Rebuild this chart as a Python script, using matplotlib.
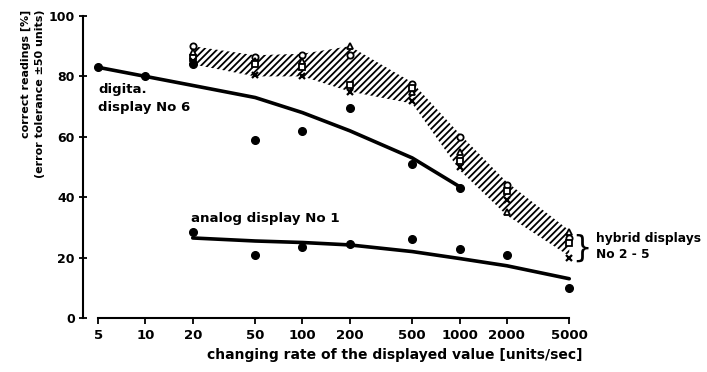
import matplotlib.pyplot as plt
import numpy as np

# rates in units/sec
rates = [5, 10, 20, 50, 100, 200, 500, 1000, 2000, 5000]

# digital display No 6 (filled dots + fitted curve)
digital_x = [5, 10, 20, 50, 100, 200, 500, 1000]
digital_y = [83, 80, 84, 59, 62, 69.5, 51, 43]
digital_fit_y = [83, 80, 77, 73, 68, 62, 53, 43.5]

# analog display No 1
analog_x = [20, 50, 100, 200, 500, 1000, 2000, 5000]
analog_y = [28.5, 21, 23.5, 24.5, 26, 23, 21, 10]
analog_fit_y = [26.5, 25.5, 25, 24.2, 22, 19.7, 17.3, 13]

# hybrid displays No 2-5
hybrid_x = [20, 50, 100, 200, 500, 1000, 2000, 5000]
hyb_circle = [90, 86.5, 87, 87, 77.5, 60, 44, 26.5]
hyb_triangle = [88, 85, 85, 90, 75, 55, 35, 28.5]
hyb_square = [86, 84, 83, 77, 76, 52, 42, 25]
hyb_cross = [85, 80.5, 80, 75, 72, 50, 39, 20]
band_top = [90, 87, 87.5, 90, 78, 61, 45, 29]
band_bottom = [84, 80, 80, 75, 71, 49, 34, 20.5]

xticks = [5, 10, 20, 50, 100, 200, 500, 1000, 2000, 5000]
yticks = [0, 20, 40, 60, 80, 100]

plt.rcParams['font.family'] = 'DejaVu Sans'
plt.rcParams['font.weight'] = 'bold'
plt.rcParams['hatch.linewidth'] = 1.3

fig = plt.figure(figsize=(7.07, 3.72), dpi=100)
ax = fig.add_axes([83 / 707, (372 - 318) / 372, 491.5 / 707, 302 / 372])
ax.set_xscale('log')
ax.set_xlim(4.0, 5400)
ax.set_ylim(0, 100)

# hatched band of the hybrid displays
ax.fill_between(hybrid_x, band_bottom, band_top, facecolor='none',
                edgecolor='black', hatch='/////', linewidth=0)

ms = 4.5
ax.plot(hybrid_x, hyb_circle, 'o', mfc='white', mec='black', ms=ms, mew=1.3)
ax.plot(hybrid_x, hyb_triangle, '^', mfc='white', mec='black', ms=ms, mew=1.3)
ax.plot(hybrid_x, hyb_square, 's', mfc='white', mec='black', ms=ms - 0.5, mew=1.3)
ax.plot(hybrid_x, hyb_cross, 'x', color='black', ms=ms, mew=1.6)

ax.plot(digital_x, digital_fit_y, color='black', lw=2.6, solid_capstyle='round')
ax.plot(digital_x, digital_y, 'o', color='black', ms=5.5)
ax.plot(analog_x, analog_fit_y, color='black', lw=2.6, solid_capstyle='round')
ax.plot(analog_x, analog_y, 'o', color='black', ms=5.5)

ax.text(5.0, 72.7, 'digita.\ndisplay No 6', fontsize=9.5, ha='left', va='center',
        linespacing=1.5)
ax.text(19.5, 32.8, 'analog display No 1', fontsize=9.6, ha='left', va='center')
ax.text(5980, 23.2, '}', fontsize=22, ha='center', va='center', clip_on=False,
        fontweight='normal')
ax.text(7350, 23.7, 'hybrid displays\nNo 2 - 5', fontsize=8.8, ha='left',
        va='center', clip_on=False, linespacing=1.3)

for s in ['top', 'right']:
    ax.spines[s].set_visible(False)
ax.spines['bottom'].set_bounds(5, 5000)
ax.spines['left'].set_bounds(0, 100)
ax.spines['left'].set_linewidth(1.5)
ax.spines['bottom'].set_linewidth(1.5)

ax.set_xticks(xticks)
ax.set_xticklabels([str(t) for t in xticks])
ax.xaxis.set_minor_locator(plt.NullLocator())
ax.set_yticks(yticks)
ax.tick_params(axis='x', direction='out', length=4, width=1.3, labelsize=9.5, pad=4)
ax.tick_params(axis='y', direction='inout', length=6, width=1.3, labelsize=9, pad=3)

fig.text(395 / 707, 1 - 355 / 372,
         'changing rate of the displayed value [units/sec]',
         fontsize=10, ha='center', va='center')
fig.text(26 / 707, 1 - 10 / 372, 'correct readings [%]', rotation=90,
         fontsize=8, ha='center', va='top')
fig.text(40 / 707, 1 - 10 / 372, '(error tolerance \u00b150 units)', rotation=90,
         fontsize=8, ha='center', va='top')

fig.savefig('out.png', dpi=100)
